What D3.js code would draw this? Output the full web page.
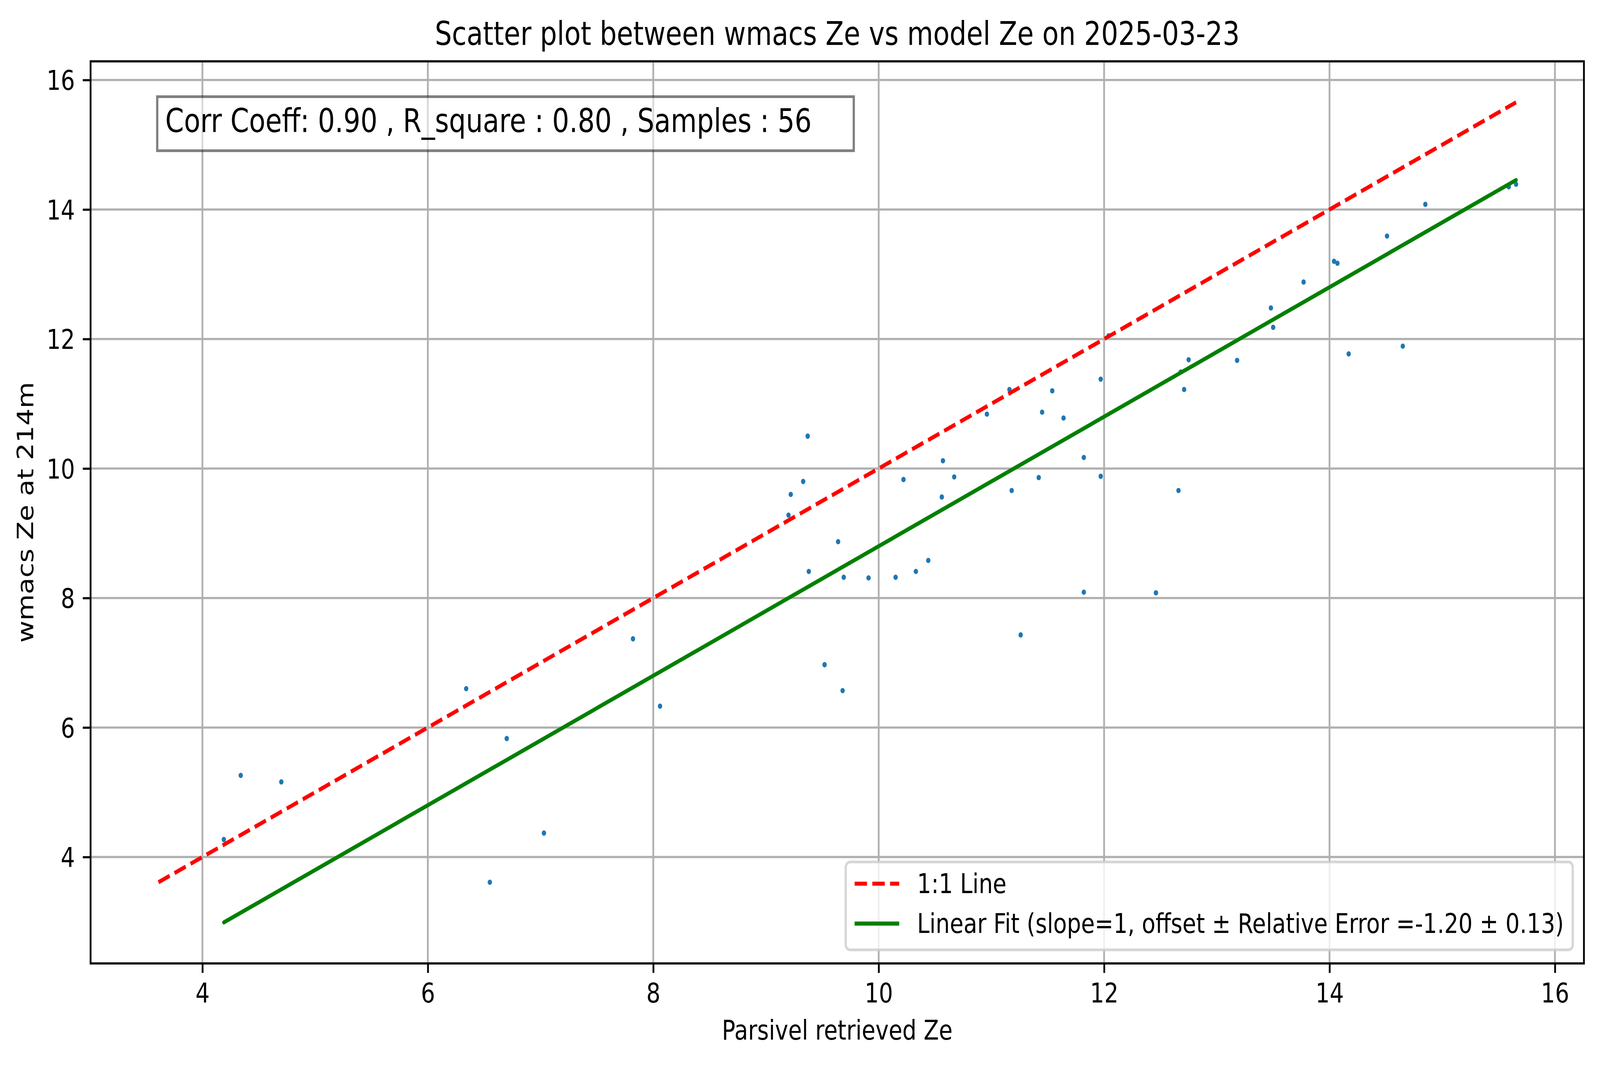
<!DOCTYPE html>
<html>
<head>
<meta charset="utf-8">
<script src="https://cdn.jsdelivr.net/npm/d3@7"></script>
<style>
  html, body { margin: 0; padding: 0; background: #ffffff; overflow: hidden; }
  svg { display: block; font-family: "DejaVu Sans", sans-serif; }
</style>
</head>
<body>
<div id="scatter-chart"></div>
<script>
// Scatter of wmacs Ze against Parsivel Ze, 2025-03-23

// Values
const parsivelZe = [4.34, 4.70, 4.19, 6.34, 6.70, 7.03, 6.55, 7.82, 8.06,
  9.37, 9.33, 9.22, 9.20, 9.64, 9.38, 9.69, 9.91, 10.15, 10.33, 10.44,
  9.52, 9.68, 10.22, 10.57, 10.56, 10.67, 10.96, 11.16, 11.54, 11.45,
  11.64, 11.97, 11.82, 11.97, 11.42, 11.18, 11.26, 11.82,
  12.66, 12.71, 12.75, 12.68, 13.18, 13.48, 13.50, 13.77, 14.04, 14.07,
  14.17, 14.51, 14.65, 14.85, 15.59, 15.655, 12.46, 12.04];
const wmacsZe = [5.26, 5.16, 4.27, 6.60, 5.83, 4.37, 3.61, 7.37, 6.33,
  10.50, 9.80, 9.60, 9.28, 8.87, 8.41, 8.32, 8.31, 8.32, 8.41, 8.58,
  6.97, 6.57, 9.83, 10.12, 9.56, 9.87, 10.84, 11.22, 11.20, 10.87,
  10.78, 11.38, 10.17, 9.88, 9.86, 9.66, 7.43, 8.09,
  9.66, 11.22, 11.68, 11.49, 11.67, 12.48, 12.18, 12.88, 13.20, 13.17,
  11.77, 13.59, 11.89, 14.08, 14.35, 14.39, 8.08, 12.05];

// fit and statistics shown on the plot
const fitSlope = 1;
const fitOffset = -1.20;
const fitError = 0.13;
const corrCoeff = 0.90;
const rSquare = 0.80;

const xTicks = [4, 6, 8, 10, 12, 14, 16];
const yTicks = [4, 6, 8, 10, 12, 14, 16];

const titleText = "Scatter plot between wmacs Ze vs model Ze on 2025-03-23";
const xLabel = "Parsivel retrieved Ze";
const yLabel = "wmacs Ze at 214m";

// Size of the drawing and of the axes box (figure was 500 dpi)
const width = 4981;
const height = 2726;
const pt = 500 / 72;
const margin = {left: 282, right: 50, top: 157, bottom: 260};
const fsSmall = 10 * pt;
const fsBig = 12 * pt;

// fit the drawing to whatever the window really is
const svg = d3.select("#scatter-chart")
  .append("svg")
  .attr("width", window.innerWidth || width)
  .attr("height", window.innerHeight || height)
  .attr("viewBox", [0, 0, width, height])
  .attr("preserveAspectRatio", "none");

svg.append("rect")
  .attr("width", width)
  .attr("height", height)
  .attr("fill", "#ffffff");

/*
  Scales
*/

// 1:1 line runs over the whole data range, fit line over the x range
const lo = Math.min(d3.min(parsivelZe), d3.min(wmacsZe));
const hi = Math.max(d3.max(parsivelZe), d3.max(wmacsZe));
const xExt = d3.extent(parsivelZe);
const oneToOne = [[lo, lo], [hi, hi]];
const fitLine = xExt.map(v => [v, fitSlope * v + fitOffset]);

// matplotlib style 5% margins
const xMinAll = d3.min([lo, xExt[0]]);
const xMaxAll = d3.max([hi, xExt[1]]);
const yMinAll = d3.min([lo, fitLine[0][1], d3.min(wmacsZe)]);
const yMaxAll = d3.max([hi, fitLine[1][1], d3.max(wmacsZe)]);
const xPad = 0.05 * (xMaxAll - xMinAll);
const yPad = 0.05 * (yMaxAll - yMinAll);

const xScale = d3.scaleLinear()
  .domain([xMinAll - xPad, xMaxAll + xPad])
  .range([margin.left, width - margin.right]);

const yScale = d3.scaleLinear()
  .domain([yMinAll - yPad, yMaxAll + yPad])
  .range([height - margin.bottom, margin.top]);

const x0 = margin.left, x1 = width - margin.right;
const y0 = margin.top, y1 = height - margin.bottom;

/*
  Points (drawn under the grid, as in matplotlib)
*/
const points = parsivelZe.map((v, i) => ({x: v, y: wmacsZe[i]}));

svg.append("g")
  .selectAll("circle")
  .data(points)
  .enter()
  .append("circle")
  .attr("cx", d => xScale(d.x))
  .attr("cy", d => yScale(d.y))
  .attr("r", 6.8)
  .attr("fill", "#1f77b4");

/*
  Grid
*/
const grid = svg.append("g")
  .attr("stroke", "#b0b0b0")
  .attr("stroke-width", 0.8 * pt);

grid.selectAll(".gx")
  .data(xTicks)
  .enter()
  .append("line")
  .attr("x1", d => xScale(d))
  .attr("x2", d => xScale(d))
  .attr("y1", y0)
  .attr("y2", y1);

grid.selectAll(".gy")
  .data(yTicks)
  .enter()
  .append("line")
  .attr("x1", x0)
  .attr("x2", x1)
  .attr("y1", d => yScale(d))
  .attr("y2", d => yScale(d));

/*
  1:1 line and linear fit
*/
const lineGen = d3.line()
  .x(d => xScale(d[0]))
  .y(d => yScale(d[1]));

const dash = [3.7 * 1.5 * pt, 1.6 * 1.5 * pt].join(",");

svg.append("path")
  .datum(oneToOne)
  .attr("d", lineGen)
  .attr("fill", "none")
  .attr("stroke", "#ff0000")
  .attr("stroke-width", 1.5 * pt)
  .attr("stroke-dasharray", dash);

svg.append("path")
  .datum(fitLine)
  .attr("d", lineGen)
  .attr("fill", "none")
  .attr("stroke", "#008000")
  .attr("stroke-width", 1.5 * pt)
  .attr("stroke-linecap", "round");

/*
  Axes
*/
const xAxis = svg.append("g")
  .attr("transform", `translate(0,${y1})`)
  .call(d3.axisBottom(xScale)
    .tickValues(xTicks)
    .tickFormat(d3.format("d"))
    .tickSize(3.5 * pt)
    .tickPadding(3.5 * pt));

const yAxis = svg.append("g")
  .attr("transform", `translate(${x0},0)`)
  .call(d3.axisLeft(yScale)
    .tickValues(yTicks)
    .tickFormat(d3.format("d"))
    .tickSize(3.5 * pt)
    .tickPadding(3.5 * pt));

[xAxis, yAxis].forEach(ax => {
  ax.select(".domain").remove();
  ax.attr("font-size", fsSmall)
    .attr("font-family", "DejaVu Sans, sans-serif");
  ax.selectAll(".tick line")
    .attr("stroke", "#000000")
    .attr("stroke-width", 0.8 * pt);
  ax.selectAll(".tick text").attr("fill", "#000000");
});
xAxis.selectAll(".tick text").attr("dy", "0.74em");
yAxis.selectAll(".tick text").attr("dy", "0.36em");

// spines
svg.append("rect")
  .attr("x", x0)
  .attr("y", y0)
  .attr("width", x1 - x0)
  .attr("height", y1 - y0)
  .attr("fill", "none")
  .attr("stroke", "#000000")
  .attr("stroke-width", 0.8 * pt);

/*
  Title and labels
*/
svg.append("text")
  .attr("x", (x0 + x1) / 2)
  .attr("y", y0 - 6 * pt)
  .attr("text-anchor", "middle")
  .attr("font-size", fsBig)
  .text(titleText);

svg.append("text")
  .attr("x", (x0 + x1) / 2)
  .attr("y", 2661)
  .attr("text-anchor", "middle")
  .attr("font-size", fsSmall)
  .text(xLabel);

svg.append("text")
  .attr("transform", `translate(103,${(y0 + y1) / 2}) rotate(-90)`)
  .attr("text-anchor", "middle")
  .attr("font-size", fsSmall)
  .text(yLabel);

/*
  Statistics box at axes (0.05, 0.95)
*/
const boxPad = 0.3 * fsBig;
const statX = x0 + 0.05 * (x1 - x0);
const statTop = y0 + 0.05 * (y1 - y0);
const statBox = svg.append("g");
const statRect = statBox.append("rect");
const statText = statBox.append("text")
  .attr("x", statX)
  .attr("y", statTop + 0.79 * fsBig)
  .attr("font-size", fsBig)
  .text(`Corr Coeff: ${corrCoeff.toFixed(2)} , R_square : ${rSquare.toFixed(2)} , Samples : ${parsivelZe.length}`);

const statLen = statText.node().getComputedTextLength();
statRect
  .attr("x", statX - boxPad)
  .attr("y", statTop - boxPad)
  .attr("width", statLen + 2 * boxPad + 4 * 0.318 * fsBig)
  .attr("height", 1.06 * fsBig + 2 * boxPad)
  .attr("fill", "#ffffff")
  .attr("fill-opacity", 0.5)
  .attr("stroke", "#000000")
  .attr("stroke-opacity", 0.5)
  .attr("stroke-width", 1 * pt);

/*
  Legend, lower right
*/
function legendLabels(i) {
  return i === 0
    ? "1:1 Line"
    : `Linear Fit (slope=${fitSlope}, offset ± Relative Error =${fitOffset.toFixed(2)} ± ${fitError.toFixed(2)})`;
}

const legendItems = [
  {label: legendLabels(0), color: "#ff0000", dashed: true},
  {label: legendLabels(1), color: "#008000", dashed: false}
];

const borderPad = 0.4 * fsSmall;
const handleLen = 2.0 * fsSmall;
const handleGap = 0.8 * fsSmall;
const rowStep = 1.47 * fsSmall;
const legRight = x1 - 0.5 * fsSmall;
const legBottom = y1 - 0.5 * fsSmall;
const lastBase = legBottom - borderPad - 0.22 * fsSmall;

const legend = svg.append("g");
const legFrame = legend.append("rect");

const rows = legend.selectAll(".row")
  .data(legendItems)
  .enter()
  .append("g");

const labels = rows.append("text")
  .attr("y", (d, i) => lastBase - (legendItems.length - 1 - i) * rowStep)
  .attr("font-size", fsSmall)
  .text(d => d.label);

const maxLen = d3.max(labels.nodes(), n => n.getComputedTextLength());
const legWidth = 2 * borderPad + handleLen + handleGap + maxLen;
const legHeight = 2 * borderPad + 0.97 * fsSmall * legendItems.length
  + 0.5 * fsSmall * (legendItems.length - 1);
const legLeft = legRight - legWidth;
const legTop = legBottom - legHeight;

labels.attr("x", legLeft + borderPad + handleLen + handleGap);

rows.append("line")
  .attr("x1", legLeft + borderPad)
  .attr("x2", legLeft + borderPad + handleLen)
  .attr("y1", (d, i) => lastBase - (legendItems.length - 1 - i) * rowStep - 0.35 * fsSmall)
  .attr("y2", (d, i) => lastBase - (legendItems.length - 1 - i) * rowStep - 0.35 * fsSmall)
  .attr("stroke", d => d.color)
  .attr("stroke-width", 1.5 * pt)
  .attr("stroke-dasharray", d => d.dashed ? dash : null);

legFrame
  .attr("x", legLeft)
  .attr("y", legTop)
  .attr("width", legWidth)
  .attr("height", legHeight)
  .attr("rx", 0.2 * fsSmall)
  .attr("fill", "#ffffff")
  .attr("fill-opacity", 0.8)
  .attr("stroke", "#cccccc")
  .attr("stroke-opacity", 0.8)
  .attr("stroke-width", 1 * pt);
</script>
</body>
</html>
